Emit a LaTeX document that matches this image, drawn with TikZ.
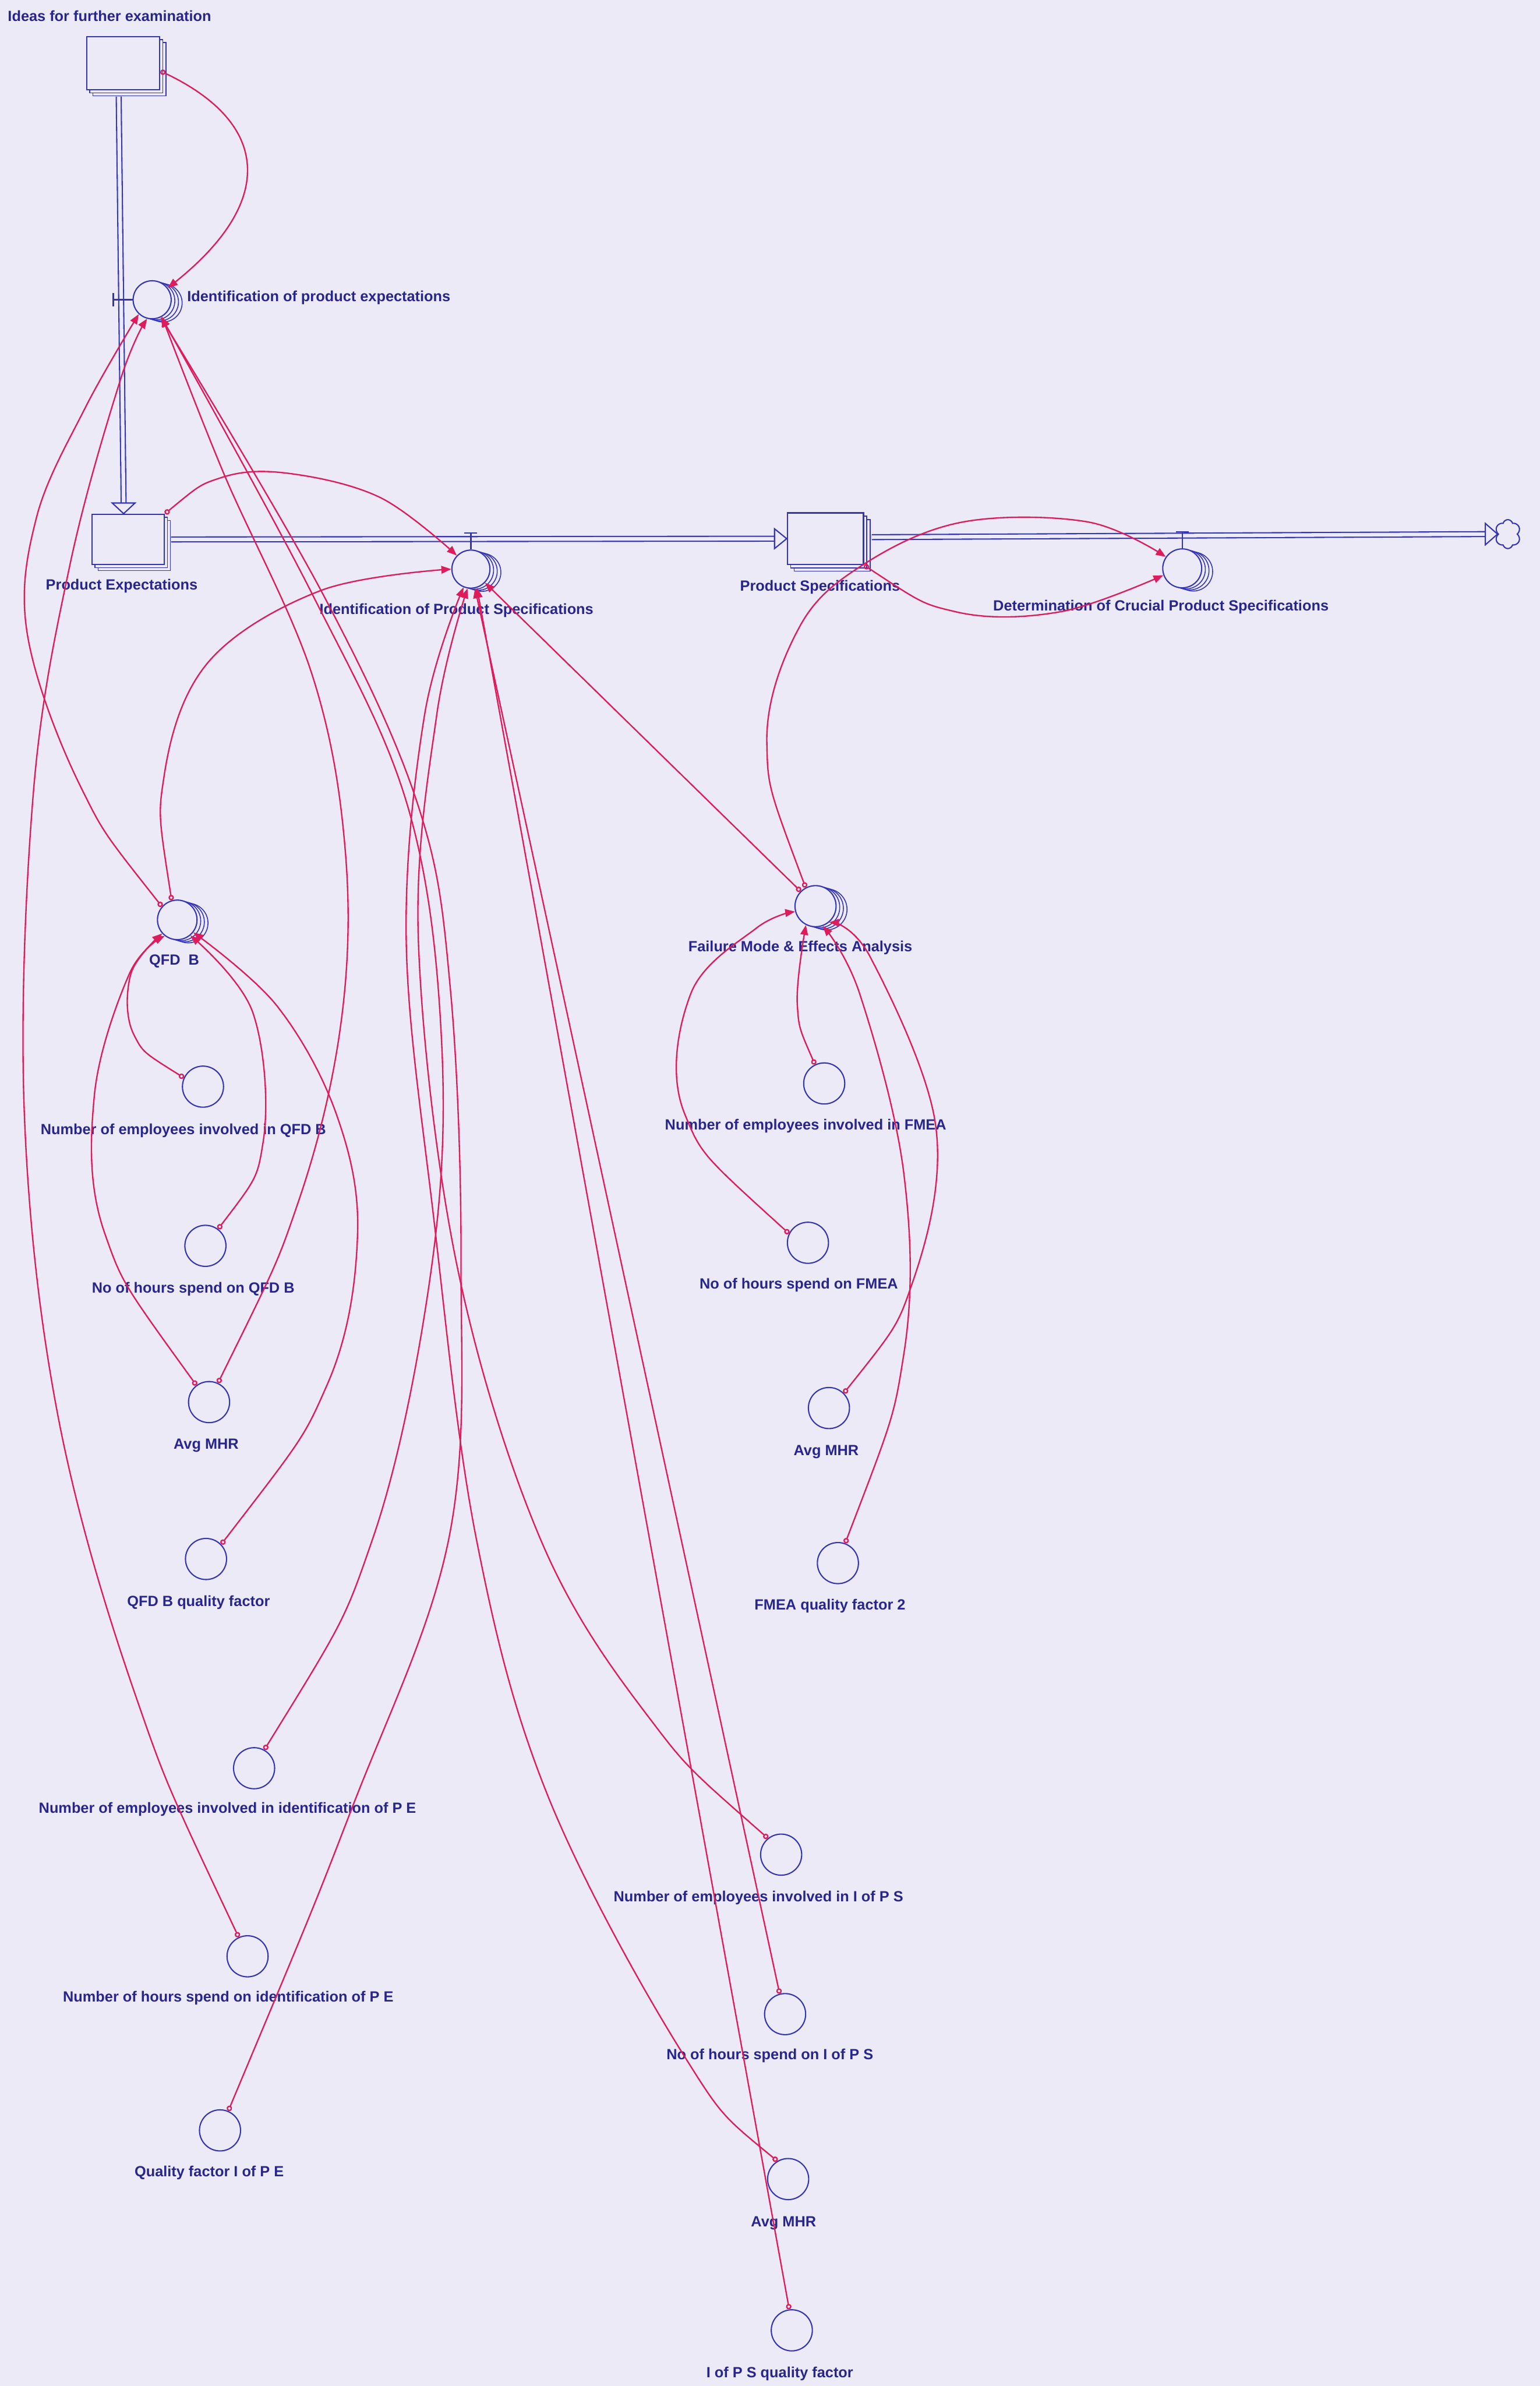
\documentclass[tikz,border=0pt]{standalone}
\usepackage{fontspec}
\setmainfont{Liberation Sans}
\usetikzlibrary{arrows.meta,shapes.symbols}
\definecolor{paper}{RGB}{235,234,246}
\definecolor{flowblue}{RGB}{52,52,180}
\definecolor{labelblue}{RGB}{40,38,140}
\definecolor{linkred}{RGB}{222,28,92}
\begin{document}
\begin{tikzpicture}[x=1pt,y=-1pt,
  stock/.style={rectangle,draw=flowblue,line width=0.9pt,fill=paper,inner sep=0pt},
  shade/.style={draw=flowblue,line width=0.6pt,fill=paper},
  rate/.style={circle,draw=flowblue,line width=0.8pt,fill=paper,inner sep=0pt,minimum size=25pt},
  aux/.style={circle,draw=flowblue,line width=0.8pt,inner sep=0pt,minimum size=27pt},
  lbl/.style={text=labelblue,font=\bfseries\fontsize{9.7}{11}\selectfont,inner sep=0pt},
  pipe/.style={draw=flowblue,line width=0.8pt,double=paper,double distance=2.4pt},
  pipehead/.style={draw=flowblue,line width=0.8pt,fill=paper,line join=miter},
  valve/.style={draw=flowblue,line width=0.9pt},
  link/.style={draw=linkred,line width=0.9pt,
    arrows={Circle[open,length=3.6pt,width=3.6pt]-Triangle[length=6.5pt,width=5pt]}},
  arc/.style={smooth,tension=0.6},
]
% paper
\fill[paper] (0,0) rectangle (1012,1568);
\useasboundingbox (0,0) rectangle (1012,1568);

% ---------- stocks (with stacked shadow) ----------
\foreach \k in {2,1} {
  \draw[shade] (57+2*\k,24+2*\k) rectangle (105+2*\k,59+2*\k);
  \draw[shade] (60.5+2*\k,338+2*\k) rectangle (108+2*\k,371+2*\k);
  \draw[shade] (517.5+2.2*\k,337+2.2*\k) rectangle (567.5+2.2*\k,371+2.2*\k);
}
\node[stock,minimum width=48pt,minimum height=35pt] (ideas) at (81,41.5) {};
\node[stock,minimum width=47.5pt,minimum height=33pt] (pe) at (84.25,354.5) {};
\node[stock,minimum width=50pt,minimum height=34pt] (ps) at (542.5,354) {};
\node[cloud,draw=flowblue,line width=0.8pt,cloud puffs=6,aspect=0.9,
      minimum width=17pt,minimum height=19pt,inner sep=0pt] (sink) at (991,351) {};

% ---------- pipes ----------
\coordinate (tipPE) at ([xshift=-3pt]pe.north);
\draw[pipe] ([xshift=-3pt,yshift=-4pt]ideas.south) -- ([yshift=7pt]tipPE);
\draw[pipehead] (tipPE) -- ++(-7.5,-7) -- ++(15,0) -- cycle;
\draw[pipe] ([xshift=4pt]pe.east) -- ([xshift=-8pt]ps.west);
\draw[pipehead] (ps.west) -- ++(-8,-6.5) -- ++(0,13) -- cycle;
\draw[pipe] ([xshift=5pt,yshift=1pt]ps.east) -- ([xshift=-8pt]sink.west);
\draw[pipehead] (sink.west) -- ++(-8,-7) -- ++(0,14) -- cycle;

% ---------- rates and shadowed converters ----------
\foreach \x/\y/\r in {100/197/12.5, 309.5/374/12.5, 777/373.5/12.8, 116.5/604.5/13, 536/595.5/13.5} {
  \foreach \k in {3,2,1} \draw[shade] (\x+2.4*\k,\y+0.7*\k) circle[radius=\r pt];
}
\node[rate] (ipe) at (100,197) {};
\node[rate] (ips) at (309.5,374) {};
\node[rate,minimum size=25.6pt] (dcps) at (777,373.5) {};
\node[rate,minimum size=26pt] (qfd) at (116.5,604.5) {};
\node[rate,minimum size=27pt] (fmea) at (536,595.5) {};

% valves
\draw[valve] (74.5,192.5) -- (74.5,201.5);
\draw[valve] (74.5,197) -- (ipe.west);
\draw[valve] (305,350.3) -- (313.5,350.3);
\draw[valve] (309.5,350.3) -- (ips.north);
\draw[valve] (772.8,349.5) -- (781.2,349.5);
\draw[valve] (777,349.5) -- (dcps.north);

% ---------- auxiliaries ----------
\node[aux] (empqfd) at (133.4,714.1) {};
\node[aux] (hrsqfd) at (135,818.7) {};
\node[aux] (mhrqfd) at (137.4,921.4) {};
\node[aux] (qfdqf) at (135.4,1024.5) {};
\node[aux] (empipe) at (167,1162) {};
\node[aux] (hrsipe) at (162.7,1285.6) {};
\node[aux] (qfipe) at (144.6,1400) {};
\node[aux] (empfmea) at (541.7,712) {};
\node[aux] (hrsfmea) at (531,816.7) {};
\node[aux] (mhrfmea) at (544.8,925.3) {};
\node[aux] (fmeaqf) at (550.7,1027.2) {};
\node[aux] (empips) at (513.4,1218.8) {};
\node[aux] (hrsips) at (516,1323.6) {};
\node[aux] (mhrips) at (518,1432) {};
\node[aux] (qfips) at (520.4,1531.4) {};

% ---------- labels ----------
\node[lbl] (ideas-l) at (72,10.5) {Ideas for further examination};
\node[lbl] (ipe-l) at (209.5,195.5) {Identification of product expectations};
\node[lbl] (pe-l) at (80,385) {Product Expectations};
\node[lbl] (ips-l) at (300,401) {Identification of Product Specifications};
\node[lbl] (ps-l) at (539,386) {Product Specifications};
\node[lbl] (dcps-l) at (763,399) {Determination of Crucial Product Specifications};
\node[lbl] (qfd-l) at (114.5,631.5) {QFD~~B};
\node[lbl] (fmea-l) at (526,623) {Failure Mode \& Effects Analysis};
\node[lbl] (empqfd-l) at (120.5,743) {Number of employees involved in QFD B};
\node[lbl] (hrsqfd-l) at (127,847) {No of hours spend on QFD B};
\node[lbl] (mhrqfd-l) at (135.5,950) {Avg MHR};
\node[lbl] (qfdqf-l) at (130.5,1053) {QFD B quality factor};
\node[lbl] (empipe-l) at (149.5,1189) {Number of employees involved in identification of P E};
\node[lbl] (hrsipe-l) at (150,1313) {Number of hours spend on identification of P E};
\node[lbl] (qfipe-l) at (137.5,1428) {Quality factor I of P E};
\node[lbl] (empfmea-l) at (529.5,740) {Number of employees involved in FMEA};
\node[lbl] (hrsfmea-l) at (525,844.5) {No of hours spend on FMEA};
\node[lbl] (mhrfmea-l) at (543,954) {Avg MHR};
\node[lbl] (fmeaqf-l) at (545.5,1055.5) {FMEA quality factor 2};
\node[lbl] (empips-l) at (498.5,1247) {Number of employees involved in I of P S};
\node[lbl] (hrsips-l) at (506,1351) {No of hours spend on I of P S};
\node[lbl] (mhrips-l) at (515,1461) {Avg MHR};
\node[lbl] (qfips-l) at (512.5,1560) {I of P S quality factor};

% ---------- information links ----------
% into Identification of product expectations
\draw[link] (ideas.-12) .. controls (176,80) and (183,131) .. (ipe.37);
\draw[link] plot[arc] coordinates {(qfd.139) (53,517) (18,417) (24,340) (56,268) (ipe.227)};
\draw[link] plot[arc] coordinates {(hrsipe.115) (89,1114) (38,930) (16,732) (22,520) (46,371) (79,250) (ipe.255)};
\draw[link] plot[arc] coordinates {(mhrqfd.65) (196,790) (224,673) (227,560) (205,443) (147,311) (ipe.-60)};
\draw[link] plot[arc] coordinates {(empipe.61) (245,1011) (284,830) (290,680) (268,530) (205,390) (ipe.-62)};
\draw[link] plot[arc] coordinates {(qfipe.67) (231,1189) (295,1011) (303,830) (296,650) (275,530) (212,390) (ipe.-64)};

% into Identification of Product Specifications
\draw[link] plot[arc] coordinates {(pe.north east) (145,314) (189,311) (250,327) (ips.136)};
\draw[link] plot[arc] coordinates {(qfd.106) (108,509) (137,435) (211,388) (ips.180)};
\draw[link] plot[arc] coordinates {(mhrips.121) (449,1350) (360,1180) (313,1011) (285,800) (267,619) (279,470) (ips.-112)};
\draw[link] plot[arc] coordinates {(empips.129) (426,1128) (355,1011) (300,830) (275,619) (287,470) (ips.-100)};
\draw[link] (hrsips.105) -- (ips.-78);
\draw[link] (qfips.97) -- (ips.-72);
\draw[link] (fmea.135) -- (ips.-44);

% into Determination of Crucial Product Specifications
\draw[link] plot[arc] coordinates {(fmea.118) (504,488) (526,411) (569,370) (633,343) (715,343) (dcps.145)};
\draw[link] plot[arc] coordinates {(ps.south east) (628,402) (697,402) (dcps.200)};

% into Failure Mode & Effects Analysis
\draw[link] plot[arc] coordinates {(empfmea.116) (524,660) (fmea.-117)};
\draw[link] plot[arc] coordinates {(hrsfmea.154) (450,732) (454,653) (497,610) (fmea.195)};
\draw[link] plot[arc] coordinates {(mhrfmea.45) (600,842) (615,740) (572,629) (fmea.-50)};
\draw[link] plot[arc] coordinates {(fmeaqf.70) (594,890) (594,771) (565,653) (fmea.-70)};

% into QFD B
\draw[link] plot[arc] coordinates {(empqfd.155) (88,680) (86,640) (qfd.222)};
\draw[link] plot[arc] coordinates {(mhrqfd.127) (69,811) (62,720) (85,640) (qfd.232)};
\draw[link] plot[arc] coordinates {(hrsqfd.53) (173,750) (166,665) (qfd.-50)};
\draw[link] plot[arc] coordinates {(qfdqf.44) (215,910) (235,811) (221,732) (182,661) (qfd.-38)};
\end{tikzpicture}
\end{document}
